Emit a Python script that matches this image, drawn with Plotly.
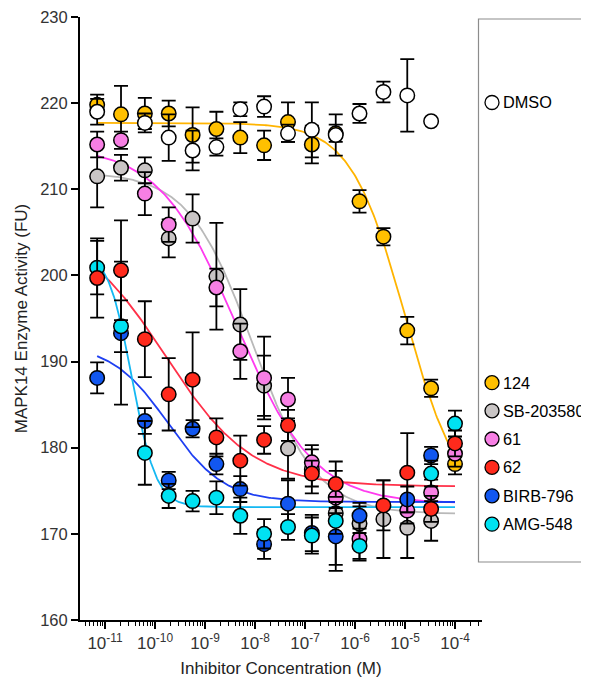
import numpy as np
import plotly.graph_objects as go

# ---------------- data ----------------
conc = [6.97e-12, 2.09e-11, 6.27e-11, 1.88e-10, 5.65e-10, 1.69e-9, 5.08e-9, 1.52e-8,
        4.57e-8, 1.37e-7, 4.12e-7, 1.23e-6, 3.70e-6, 1.11e-5, 3.33e-5, 1.0e-4]

names = ["124", "DMSO", "SB-203580", "61", "BIRB-796", "AMG-548", "62"]

y_124 = [219.8, 218.7, 218.8, 218.8, 216.3, 217.0, 216.0, 215.1, 217.8, 215.2, 216.5, 208.6, 204.5, 193.6, 186.9, 178.1]
e_124 = [1.2, 3.3, 1.8, 1.5, 3.2, 2.0, 1.8, 1.7, 2.3, 2.2, 1.0, 1.3, 1.0, 1.6, 1.0, 1.2]

y_dmso = [219.0, None, 217.7, 216.0, 214.5, 214.9, 219.3, 219.6, 216.5, 216.9, 216.3, 218.8, 221.3, 220.9, 217.9, None]
e_dmso = [1.5, 0, 1.1, 2.7, 2.3, 1.0, 0.8, 1.2, 1.0, 3.2, 2.4, 1.1, 1.2, 4.2, 0, 0]

y_sb = [211.5, 212.5, 212.2, 204.3, 206.6, 199.9, 194.3, 187.2, 179.9, 177.5, 172.4, 171.2, 171.7, 170.7, 171.5, None]
e_sb = [3.6, 1.5, 1.5, 2.2, 2.8, 6.2, 4.1, 3.5, 3.5, 2.8, 6.0, 2.0, 4.5, 3.5, 2.3, 0]

y_61 = [215.2, 215.7, 209.5, 205.9, None, 198.6, 191.2, 188.1, 185.6, 178.3, 174.2, 169.4, None, 172.7, 174.8, 179.3]
e_61 = [1.5, 1.0, 2.5, 2.0, 0, 2.2, 3.2, 4.8, 2.5, 1.5, 1.8, 2.5, 0, 1.5, 1.5, 1.5]

y_62 = [199.7, 200.6, 192.6, 186.2, 187.9, 181.2, 178.5, 180.9, 182.6, 177.0, 175.8, None, 173.3, 177.1, 172.9, 180.5]
e_62 = [4.6, 5.8, 4.4, 4.2, 5.5, 2.2, 2.9, 1.6, 1.8, 1.5, 1.5, 0, 2.9, 4.6, 1.5, 1.5]

y_birb = [188.1, 193.3, 183.1, 176.2, 182.2, 178.1, 175.2, 168.8, 173.5, 170.1, 169.7, 172.1, None, 174.0, 179.1, None]
e_birb = [1.8, 8.3, 1.5, 1.0, 1.0, 1.2, 1.5, 1.7, 2.7, 2.1, 4.0, 1.5, 0, 1.5, 1.0, 0]

y_amg = [200.9, 194.1, 179.4, 174.4, 173.8, 174.2, 172.1, 170.0, 170.8, 169.8, 171.5, 168.6, None, None, 177.0, 182.8]
e_amg = [3.1, 3.0, 3.7, 1.4, 1.2, 1.9, 2.1, 1.7, 1.5, 2.1, 1.5, 1.5, 0, 0, 1.5, 1.5]

# 4-parameter logistic fit parameters: top, bottom, logIC50, hill
fit_124 = [217.7, 173.0, -5.0, 0.8]
fit_sb = [212.0, 172.3, -8.05, 0.68]
fit_61 = [215.0, 173.5, -8.37, 0.56]
fit_62 = [206.0, 175.5, -9.8, 0.5]
fit_birb = [192.0, 173.7, -9.74, 0.77]
fit_amg = [203.0, 173.1, -10.46, 1.8]

y_ticks = [160, 170, 180, 190, 200, 210, 220, 230]
x_tick_exps = [-11, -10, -9, -8, -7, -6, -5, -4]

# ---------------- styles ----------------
fill = {"124": "#FFC000", "DMSO": "#FFFFFF", "SB-203580": "#C9C5C5", "61": "#F77FE4",
        "62": "#FF2A1C", "BIRB-796": "#1257F0", "AMG-548": "#00E2F2"}
linec = {"124": "#FFB400", "SB-203580": "#B9B9B9", "61": "#FF3BEF", "62": "#FF3048",
         "BIRB-796": "#1E3FF2", "AMG-548": "#14B8F2"}

series = {"124": (y_124, e_124), "DMSO": (y_dmso, e_dmso), "SB-203580": (y_sb, e_sb),
          "61": (y_61, e_61), "62": (y_62, e_62), "BIRB-796": (y_birb, e_birb),
          "AMG-548": (y_amg, e_amg)}
fits = {"124": fit_124, "SB-203580": fit_sb, "61": fit_61, "62": fit_62,
        "BIRB-796": fit_birb, "AMG-548": fit_amg}

fig = go.Figure()

xc = np.logspace(np.log10(conc[0]), np.log10(conc[-1]), 300)
for n in ["124", "SB-203580", "61", "62", "BIRB-796", "AMG-548"]:
    top, bot, c, h = fits[n]
    yc = bot + (top - bot) / (1 + 10 ** (h * (np.log10(xc) - c)))
    fig.add_trace(go.Scatter(x=xc, y=yc, mode="lines", line=dict(color=linec[n], width=1.8),
                             hoverinfo="skip", showlegend=False))

for n in names:
    yv, ev = series[n]
    fig.add_trace(go.Scatter(
        x=conc, y=yv, mode="markers", name=n, showlegend=False,
        marker=dict(size=14.5, color=fill[n], line=dict(color="black", width=1.5)),
        error_y=dict(type="data", array=ev, visible=True, color="black", thickness=1.8, width=7),
    ))

# page has an 8px body margin; figure coordinates = page coordinates - 8
OFF = 8
W, H = 589, 683
L, T = 80 - OFF, 17 - OFF
R = W - (482 - OFF)
B = H - (620 - OFF)
pw, ph = W - L - R, H - T - B

def px(xp):
    return (xp - OFF - L) / pw

def py(yp):
    return (H - B - (yp - OFF)) / ph

shapes = [dict(type="rect", xref="paper", yref="paper", x0=px(478.5), x1=px(640),
               y0=py(562), y1=py(19), line=dict(color="#8c8c8c", width=1.2))]
annotations = []
leg_items = [("DMSO", 102.5), ("124", 382.7), ("SB-203580", 410.8), ("61", 439.0),
             ("62", 467.3), ("BIRB-796", 495.8), ("AMG-548", 524.2)]
for n, yy in leg_items:
    shapes.append(dict(type="circle", xref="paper", yref="paper", xsizemode="pixel",
                       ysizemode="pixel", xanchor=px(492), yanchor=py(yy),
                       x0=-7, x1=7, y0=-7, y1=7, fillcolor=fill[n],
                       line=dict(color="black", width=1.3)))
    annotations.append(dict(xref="paper", yref="paper", x=px(501), y=py(yy), text=n,
                            showarrow=False, xanchor="left", yanchor="middle",
                            font=dict(size=16.3, color="black")))

minor_vals = []
for k in range(-12, -3):
    for m in range(2, 10):
        v = m * 10.0 ** k
        if 3.2e-12 < v < 3.4e-4:
            minor_vals.append(v)

fig.update_layout(
    width=W, height=H, margin=dict(l=L, r=R, t=T, b=B, autoexpand=False),
    paper_bgcolor="white", plot_bgcolor="white",
    font=dict(family="Liberation Sans, Arial, Helvetica, sans-serif", size=17, color="#333"),
    shapes=shapes, annotations=annotations,
    xaxis=dict(type="log", range=[-11.5, -3.46], showgrid=False, zeroline=False,
               automargin=False,
               showline=True, linecolor="black", linewidth=2,
               tickmode="array", tickvals=[10.0 ** e for e in x_tick_exps],
               ticktext=["10<sup>%d</sup>" % e for e in x_tick_exps],
               ticks="outside", ticklen=7, tickwidth=1.5, tickcolor="black",
               tickfont=dict(size=17, color="#333"),
               minor=dict(tickmode="array", tickvals=minor_vals, ticks="outside",
                          ticklen=4, tickwidth=1.2, tickcolor="black", showgrid=False),
               title=dict(text="Inhibitor Concentration (M)", font=dict(size=17, color="#222"),
                          standoff=10)),
    yaxis=dict(range=[160, 230], showgrid=False, zeroline=False,
               automargin=False, ticklabeloverflow="allow",
               showline=True, linecolor="black", linewidth=2,
               tickmode="array", tickvals=y_ticks,
               ticks="outside", ticklen=7, tickwidth=1.5, tickcolor="black",
               tickfont=dict(size=16.5, color="#333"),
               title=dict(text="MAPK14 Enzyme Activity (FU)", font=dict(size=17, color="#222"),
                          standoff=8)),
)

fig.write_html("out.html")
